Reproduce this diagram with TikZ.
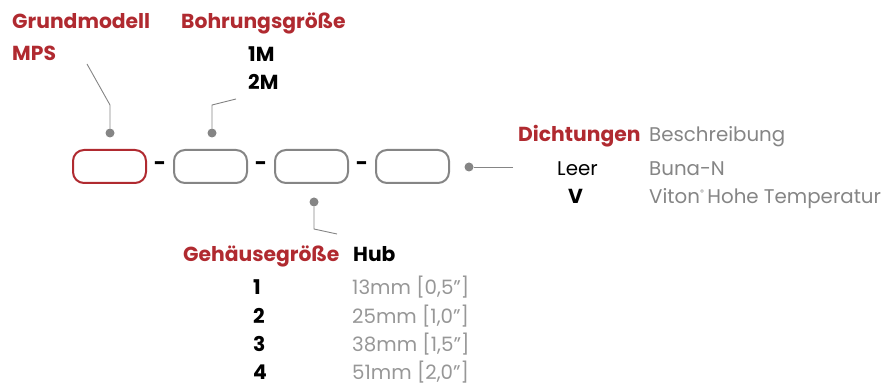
\documentclass[tikz,border=0pt]{standalone}
\usepackage{fontspec}
\setmainfont{Poppins}[BoldFont={* Bold}]
\definecolor{fred}{HTML}{B02A30}
\definecolor{fgray}{HTML}{858585}
\definecolor{lgray}{HTML}{979797}
\begin{document}
\begin{tikzpicture}[x=1pt,y=-1pt,
  slot/.style={draw=fgray,line width=2pt,rounded corners=11pt,minimum width=73pt,minimum height=33pt,inner sep=0pt},
  dot/.style={circle,fill=fgray,inner sep=0pt,minimum size=9pt},
  lead/.style={draw=fgray,line width=0.9pt},
  sep/.style={font=\bfseries\fontsize{21}{21}\selectfont,anchor=center,inner sep=0pt},
  hd/.style={anchor=base west,inner sep=0pt,font=\bfseries\fontsize{20.3}{22}\selectfont},
  tx/.style={anchor=base west,inner sep=0pt,font=\fontsize{19.8}{22}\selectfont}]
\useasboundingbox (0,0) rectangle (884,387);
% slots
\node[slot,draw=fred] (b1) at (109.5,166.5) {};
\node[slot] (b2) at (210.5,166.5) {};
\node[slot] (b3) at (311.5,166.5) {};
\node[slot] (b4) at (412.5,166.5) {};
\node[sep] (d1) at (160,166) {-};
\node[sep] (d2) at (261,166) {-};
\node[sep] (d3) at (362,166) {-};
% dots
\node[dot] (p1) at (110,133) {};
\node[dot] (p2) at (212,133) {};
\node[dot] (p3) at (314,202) {};
\node[dot] (p4) at (469,167) {};
\coordinate (c1) at (87,64);
\coordinate (k1) at (110,105);
\coordinate (c2) at (236,99);
\coordinate (k2) at (212,105);
\coordinate (c3) at (337,234);
\coordinate (k3) at (314,229);
\coordinate (c4) at (513,167);
\draw[lead] (c1) -- (k1) -- (p1);
\draw[lead] (c2) -- (k2) -- (p2);
\draw[lead] (c3) -- (k3) -- (p3);
\draw[lead] (c4) -- (p4);
% texts
\node[hd,text=fred] (t1) at (12,29) {Grundmodell};
\node[hd,text=fred] (t2) at (12,61) {MPS};
\node[hd,text=fred] (t3) at (181,29) {Bohrungsgröße};
\node[hd] (t4) at (248,62) {1M};
\node[hd] (t5) at (248,90) {2M};
\node[hd,text=fred] (t6) at (518,142) {Dichtungen};
\node[tx,text=fgray] (t7) at (649,142) {Beschreibung};
\node[tx] (t8) at (557,176) {Leer};
\node[tx,text=fgray] (t9) at (649,176) {Buna-N};
\node[hd] (t10) at (568,204) {V};
\node[tx,text=fgray] (t11) at (649,204) {Viton\raisebox{0.45em}{\fontsize{8}{8}\selectfont®}\,Hohe Temperatur};
\node[hd,text=fred] (t12) at (183,262) {Gehäusegröße};
\node[hd] (t13) at (353,262) {Hub};
\node[hd] (n1) at (253,295) {1};
\node[hd] (n2) at (253,323.5) {2};
\node[hd] (n3) at (253,352) {3};
\node[hd] (n4) at (253,380) {4};
\node[tx,text=lgray] (h1) at (352,295) {13mm [0,5"]};
\node[tx,text=lgray] (h2) at (352,323.5) {25mm [1,0"]};
\node[tx,text=lgray] (h3) at (352,352) {38mm [1,5"]};
\node[tx,text=lgray] (h4) at (352,380) {51mm [2,0"]};
\end{tikzpicture}
\end{document}
